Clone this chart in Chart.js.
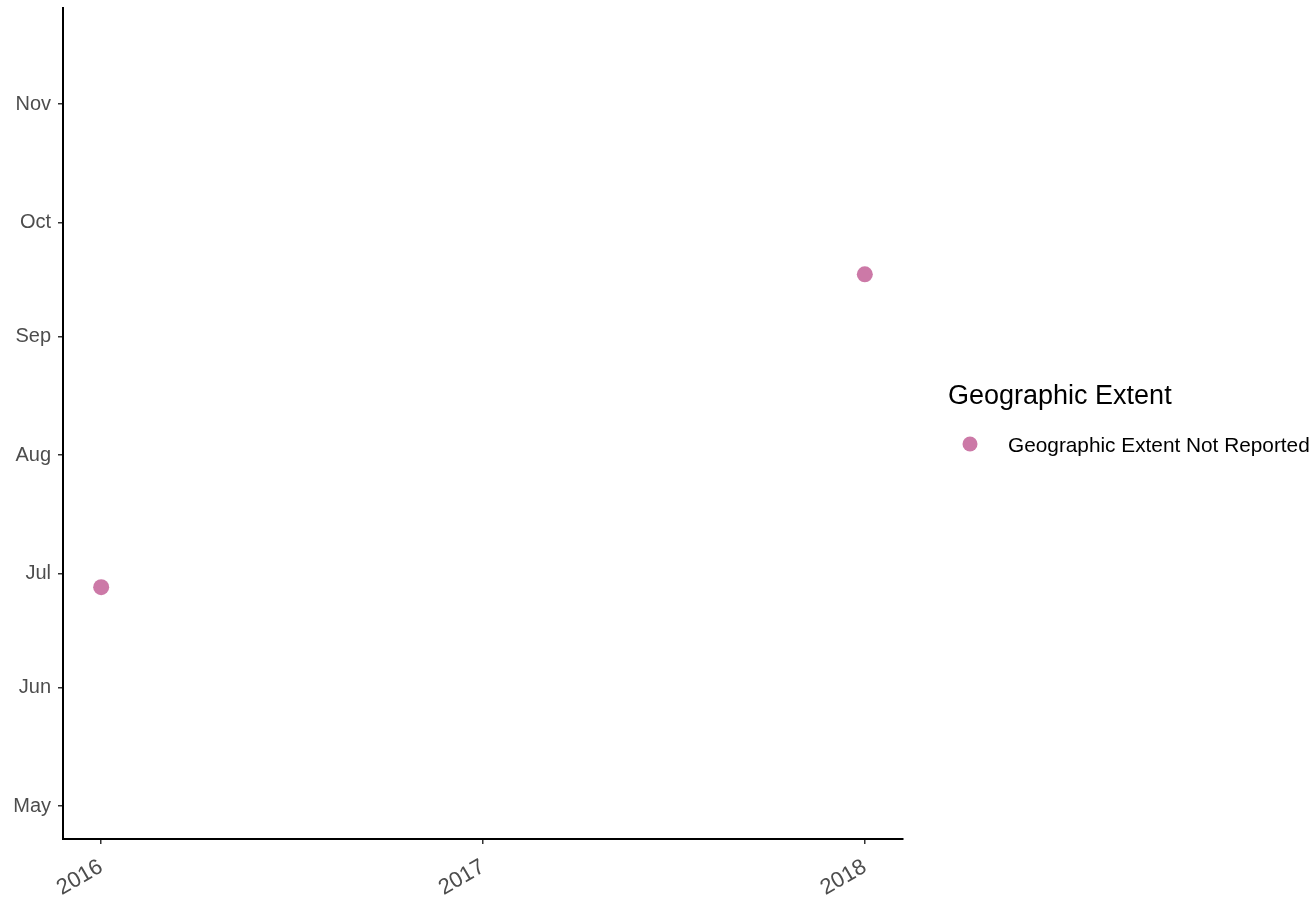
<!DOCTYPE html>
<html>
<head>
<meta charset="utf-8">
<script src="https://cdn.jsdelivr.net/npm/chart.js@4"></script>
<style>
  html, body { margin: 0; padding: 0; background: #fff; }
  #wrap { width: 1315px; height: 898px; }
</style>
</head>
<body>
<div id="wrap"><canvas id="myChart" width="1315" height="898"></canvas></div>
<script>
// x axis: year, y axis: day of year (month ticks)
const yearTicks = [2016, 2017, 2018];
const monthLabels = ["May", "Jun", "Jul", "Aug", "Sep", "Oct", "Nov"];
const monthStartDays = [120, 151, 181, 212, 243, 273, 304];

const seriesName = "Geographic Extent Not Reported";
const pointYears = [2016, 2018];
const pointDays = [177.4, 259.4];

const legendTitle = "Geographic Extent";
const pointColor = "#CC79A7";
const fontFamily = "'Liberation Sans', Arial, sans-serif";

var points = pointYears.map(function (yr, i) {
  return { x: yr, y: pointDays[i] };
});

// simple ggplot-like legend on the right
var sideLegend = {
  id: "sideLegend",
  afterDraw: function (chart) {
    var ctx = chart.ctx;
    var left = chart.chartArea.right;
    var ds = chart.data.datasets[0];
    ctx.save();
    ctx.fillStyle = "#000";
    ctx.textBaseline = "middle";
    ctx.textAlign = "left";
    ctx.font = "27px " + fontFamily;
    ctx.fillText(legendTitle, left + 45, 397);
    ctx.beginPath();
    ctx.arc(left + 67, 444, 7.5, 0, Math.PI * 2);
    ctx.fillStyle = ds.backgroundColor;
    ctx.fill();
    ctx.fillStyle = "#000";
    ctx.font = "20.8px " + fontFamily;
    ctx.fillText(ds.label, left + 105, 446);
    ctx.restore();
  },
};

var ctx = document.getElementById("myChart").getContext("2d");
var chart = new Chart(ctx, {
  type: "scatter",
  data: {
    datasets: [
      {
        label: seriesName,
        data: points,
        backgroundColor: pointColor,
        borderColor: pointColor,
        pointRadius: 8,
        pointHoverRadius: 8,
        borderWidth: 0,
      },
    ],
  },
  options: {
    responsive: false,
    animation: false,
    layout: { padding: { top: 8, right: 412, left: 0, bottom: 0 } },
    plugins: {
      legend: { display: false },
      tooltip: { enabled: false },
    },
    scales: {
      x: {
        type: "linear",
        min: 2015.9,
        max: 2018.1,
        afterBuildTicks: function (scale) {
          scale.ticks = yearTicks.map(function (v) { return { value: v }; });
        },
        afterFit: function (scale) {
          scale.height = 59;
          scale.paddingLeft = 0;
          scale.paddingRight = 0;
        },
        grid: { display: true, drawOnChartArea: false, drawTicks: true, tickLength: 5, color: "#333", lineWidth: 1.5 },
        border: { display: true, color: "#000", width: 2 },
        ticks: {
          color: "#4d4d4d",
          font: { family: fontFamily, size: 22 },
          minRotation: 30,
          maxRotation: 30,
          padding: 10,
          callback: function (v) { return String(v); },
        },
      },
      y: {
        type: "linear",
        min: 111.4,
        max: 329.2,
        afterBuildTicks: function (scale) {
          scale.ticks = monthStartDays.map(function (v) { return { value: v }; });
        },
        afterFit: function (scale) {
          scale.width = 63;
          scale.paddingTop = 0;
          scale.paddingBottom = 0;
        },
        grid: { display: true, drawOnChartArea: false, drawTicks: true, tickLength: 5, color: "#333", lineWidth: 1.5 },
        border: { display: true, color: "#000", width: 2 },
        ticks: {
          color: "#4d4d4d",
          font: { family: fontFamily, size: 20 },
          padding: 7,
          callback: function (v) {
            var i = monthStartDays.indexOf(v);
            return i >= 0 ? monthLabels[i] : "";
          },
        },
      },
    },
  },
  plugins: [sideLegend],
});
</script>
</body>
</html>
